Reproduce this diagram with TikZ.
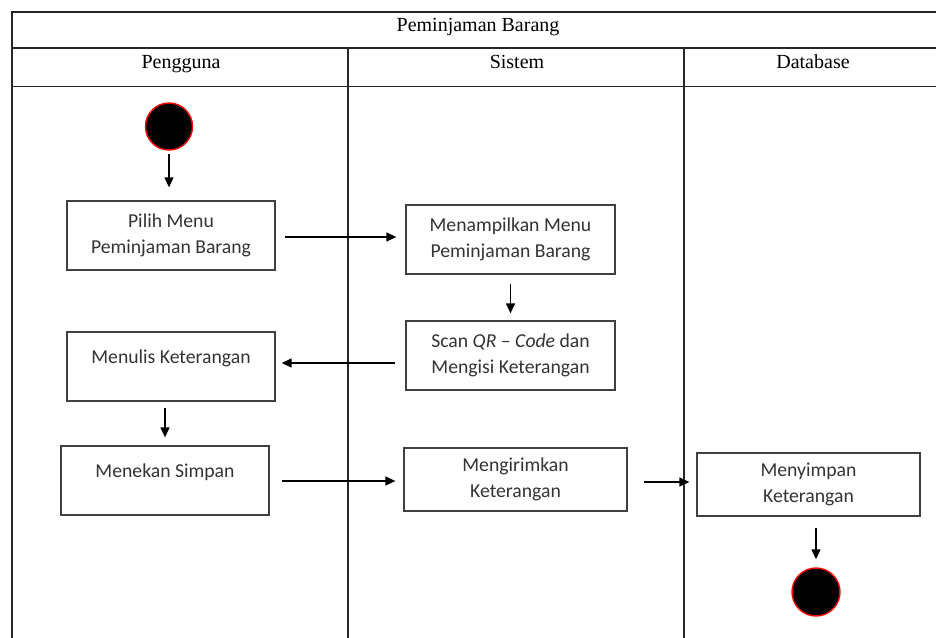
\documentclass[tikz,border=0pt]{standalone}
\usepackage{fontspec}
\setmainfont{Liberation Serif}
\newfontfamily\boxfont{Carlito}
\usetikzlibrary{arrows.meta}
\begin{document}
\begin{tikzpicture}[x=1pt,y=-1pt,
  frame/.style={draw=black!85, line width=1.6pt},
  lane/.style={draw=black!85, line width=1.4pt},
  act/.style={draw=black!75, line width=1.3pt, rectangle, align=center, inner sep=0pt,
    font=\boxfont\fontsize{19.7}{26}\selectfont, text=black!80},
  single/.style={text height=14pt, text depth=20pt},
  dot/.style={circle, fill=black, draw=red, line width=1.4pt, minimum size=47pt, inner sep=0pt},
  arr/.style={draw=black, line width=1.3pt, -{Triangle[length=10pt,width=9pt]}},
  head/.style={font=\fontsize{20}{24}\selectfont, anchor=base, inner sep=0pt}
]
\useasboundingbox (0,0) rectangle (936,637);
\fill[white] (0,0) rectangle (936,637);

% swimlane frame and headers
\draw[frame] (946,12) -- (12,12) -- (12,642);
\draw[frame] (12,48) -- (946,48);
\draw[frame] (12,86.5) -- (946,86.5);
\draw[lane] (348,48) -- (348,642);
\draw[lane] (684,48) -- (684,642);
\node[head] (title) at (478,31) {Peminjaman Barang};
\node[head] (lane1) at (181,68) {Pengguna};
\node[head] (lane2) at (517,68) {Sistem};
\node[head] (lane3) at (813,68) {Database};

% activities
\node[dot] (start) at (169,126.5) {};
\node[act, minimum width=208pt, minimum height=69pt] (b1) at (171,235.5) {Pilih Menu\\Peminjaman Barang};
\node[act, minimum width=209pt, minimum height=69pt] (b2) at (510.5,239.5) {Menampilkan Menu\\Peminjaman Barang};
\node[act, minimum width=209pt, minimum height=69pt] (b3) at (510.5,355.5) {Scan \textit{QR} – \textit{Code} dan\\Mengisi Keterangan};
\node[act, single, minimum width=208pt, minimum height=69pt] (b4) at (171,366.5) {Menulis Keterangan};
\node[act, single, minimum width=208pt, minimum height=69pt] (b5) at (165,480.5) {Menekan Simpan};
\node[act, minimum width=223pt, minimum height=63pt] (b6) at (515.5,479.5) {Mengirimkan\\Keterangan};
\node[act, minimum width=223pt, minimum height=63pt] (b7) at (808.5,484.5) {Menyimpan\\Keterangan};
\node[dot, minimum size=48pt] (end) at (816,592) {};

% heights of the horizontal flows
\coordinate (y12) at (0,237);
\coordinate (y34) at (0,363);
\coordinate (y56) at (0,481);
\coordinate (y67) at (0,482);

% control flow
\draw[arr, shorten <=3pt, shorten >=13pt] (start.south) -- (start.south |- b1.north);
\draw[arr, shorten <=9pt, shorten >=9pt] (b1.east |- y12) -- (b2.west |- y12);
\draw[arr, shorten <=9pt, shorten >=7pt] (b2.south) -- (b3.north);
\draw[arr, shorten <=10pt, shorten >=6pt] (b3.west |- y34) -- (b4.east |- y34);
\draw[arr, shorten <=6pt, shorten >=8pt] (b5.north |- b4.south) -- (b5.north);
\draw[arr, shorten <=12pt, shorten >=8pt] (b5.east |- y56) -- (b6.west |- y56);
\draw[arr, shorten <=16pt, shorten >=7pt] (b6.east |- y67) -- (b7.west |- y67);
\draw[arr, shorten <=11pt, shorten >=8pt] (end.north |- b7.south) -- (end.north);
\end{tikzpicture}
\end{document}
